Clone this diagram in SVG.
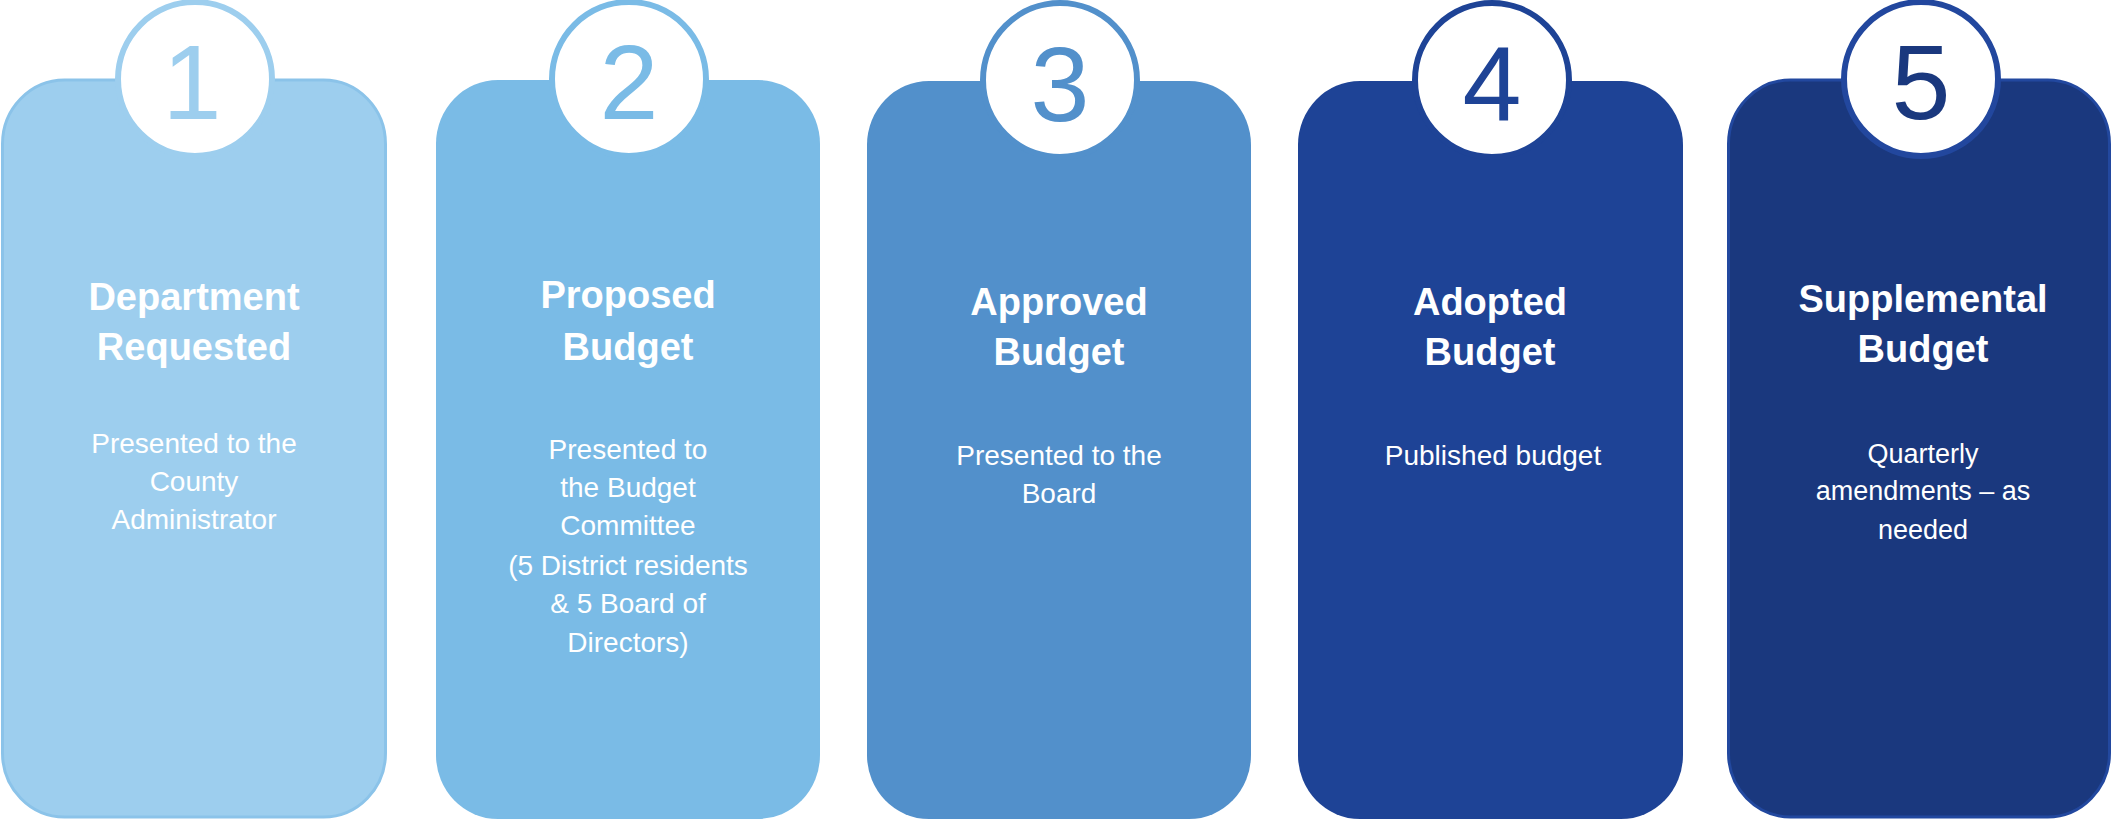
<svg xmlns="http://www.w3.org/2000/svg" width="2111" height="821" viewBox="0 0 2111 821">
<style>
.title{font-family:"Liberation Sans",Arial,sans-serif;font-weight:bold;font-size:38px;fill:#ffffff;text-anchor:middle}
.body{font-family:"Liberation Sans",Arial,sans-serif;font-size:28px;fill:#ffffff;text-anchor:middle}
.num{font-family:"Liberation Sans",Arial,sans-serif;font-size:106px;text-anchor:middle}
.ring{fill:#ffffff;stroke-width:6}
</style>
<rect width="2111" height="821" fill="#ffffff"/>
<g id="step1">
<rect x="2.5" y="80" width="383" height="737" rx="62" ry="64" fill="#9DCEEE" stroke="#8BC3E9" stroke-width="3"/>
<circle class="ring" cx="195" cy="79" r="77" stroke="#9DCEEE"/>
<text class="num" x="192" y="119" fill="#9DCEEE">1</text>
<text class="title" x="194" y="310">Department</text>
<text class="title" x="194" y="360">Requested</text>
<text class="body" x="194" y="453">Presented to the</text>
<text class="body" x="194" y="491">County</text>
<text class="body" x="194" y="529">Administrator</text>
</g>
<g id="step2">
<rect x="436" y="80" width="384" height="739" rx="62" ry="64" fill="#7ABBE6"/>
<circle class="ring" cx="629" cy="79" r="77" stroke="#7ABBE6"/>
<text class="num" x="629" y="119" fill="#7ABBE6">2</text>
<text class="title" x="628" y="308">Proposed</text>
<text class="title" x="628" y="360">Budget</text>
<text class="body" x="628" y="459">Presented to</text>
<text class="body" x="628" y="497">the Budget</text>
<text class="body" x="628" y="535">Committee</text>
<text class="body" x="628" y="575">(5 District residents</text>
<text class="body" x="628" y="613">&amp; 5 Board of</text>
<text class="body" x="628" y="652">Directors)</text>
</g>
<g id="step3">
<rect x="867" y="81" width="384" height="738" rx="62" ry="64" fill="#5290CB"/>
<circle class="ring" cx="1060" cy="80" r="77" stroke="#5290CB"/>
<text class="num" x="1060" y="121" fill="#5290CB">3</text>
<text class="title" x="1059" y="315">Approved</text>
<text class="title" x="1059" y="365">Budget</text>
<text class="body" x="1059" y="465">Presented to the</text>
<text class="body" x="1059" y="503">Board</text>
</g>
<g id="step4">
<rect x="1298" y="81" width="385" height="738" rx="62" ry="64" fill="#1E4396"/>
<circle class="ring" cx="1492" cy="80" r="77" stroke="#1E4396"/>
<text class="num" x="1492" y="121" fill="#1E4396">4</text>
<text class="title" x="1490" y="315">Adopted</text>
<text class="title" x="1490" y="365">Budget</text>
<text class="body" x="1493" y="465">Published budget</text>
</g>
<g id="step5">
<rect x="1728.5" y="80" width="381" height="737" rx="62" ry="64" fill="#1A387E" stroke="#22489F" stroke-width="3"/>
<circle class="ring" cx="1921" cy="79" r="77" stroke="#22479E"/>
<text class="num" x="1921" y="119" fill="#1A387E">5</text>
<text class="title" x="1923" y="312">Supplemental</text>
<text class="title" x="1923" y="362">Budget</text>
<text class="body" x="1923" y="463" style="font-size:27px">Quarterly</text>
<text class="body" x="1923" y="500" style="font-size:27px">amendments – as</text>
<text class="body" x="1923" y="539" style="font-size:27px">needed</text>
</g>
<g id="connectors"></g>
</svg>
